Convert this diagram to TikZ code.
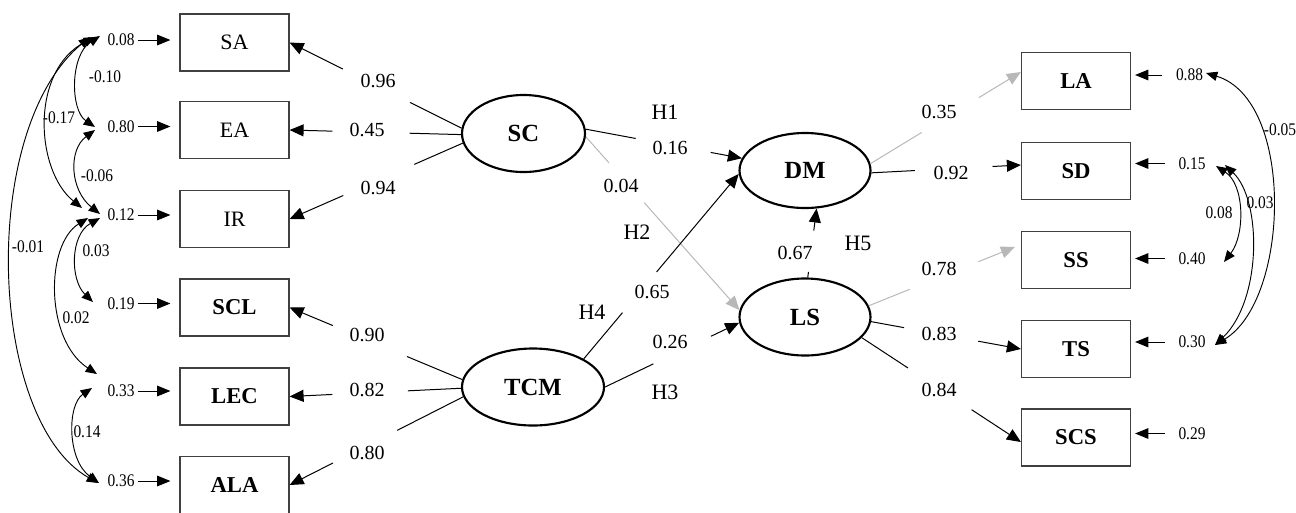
\documentclass[tikz,border=0pt]{standalone}
\usepackage{fontspec}
\setmainfont{Liberation Serif}
\newfontfamily\condfont[FakeStretch=0.87]{Liberation Serif}
\usetikzlibrary{arrows.meta,calc,shapes.geometric}
\definecolor{boxc}{HTML}{404040}
\definecolor{lgray}{HTML}{B8B8B8}
\newcommand{\gapline}[5][]{%
  \draw[ln,#1] (#2) -- ($(#2)!#4!(#3)$);
  \draw[ln,arr,#1] ($(#2)!#5!(#3)$) -- (#3);
}
\begin{document}
\begin{tikzpicture}[x=0.75pt,y=-0.75pt,
  ln/.style={line width=0.75pt},
  arr/.style={-{Triangle[length=10.5pt,width=9pt]}},
  arr2/.style={-{Triangle[length=10pt,width=8pt]}},
  dbl/.style={line width=0.7pt,{Triangle[length=8.5pt,width=7pt]}-{Triangle[length=8.5pt,width=7pt]}},
  box/.style={draw=boxc,line width=0.9pt,minimum width=81.75pt,minimum height=42.75pt,inner sep=0pt,font=\fontsize{16.5}{19}\selectfont},
  boxb/.style={box,font=\fontsize{17}{20}\selectfont\bfseries},
  ell/.style={ellipse,draw,line width=1.6pt,inner sep=0pt,font=\fontsize{18.5}{22}\selectfont\bfseries},
  num/.style={inner sep=0pt,font=\fontsize{15}{18}\selectfont},
  hyp/.style={inner sep=0pt,font=\fontsize{16.5}{20}\selectfont},
  err/.style={inner sep=1pt,font=\condfont\fontsize{13.3}{15}\selectfont},
  cov/.style={inner sep=0pt,font=\condfont\fontsize{13.3}{15}\selectfont}]
\useasboundingbox (0,0) rectangle (1296,512);

% left indicator boxes
\node[box]  (SA)  at (234.5,42.5) {SA};
\node[box]  (EA)  at (234.5,130) {EA};
\node[box]  (IR)  at (234.5,219) {IR};
\node[boxb] (SCL) at (234.5,307.5) {SCL};
\node[boxb] (LEC) at (234.5,396.5) {LEC};
\node[boxb] (ALA) at (234.5,485) {ALA};

% right indicator boxes
\node[boxb] (LA)  at (1076,81) {LA};
\node[boxb] (SD)  at (1076,171) {SD};
\node[boxb] (SS)  at (1076,260) {SS};
\node[boxb] (TS)  at (1076,349) {TS};
\node[boxb] (SCS) at (1076,437.5) {SCS};

% latent variables
\node[ell,minimum width=92.25pt,minimum height=57.75pt] (SC) at (523.5,133.5) {SC};
\node[ell,minimum width=106.5pt,minimum height=57.75pt] (TCM) at (533,387) {TCM};
\node[ell,minimum width=98.25pt,minimum height=56.25pt] (DM) at (805,170.5) {DM};
\node[ell,minimum width=98.25pt,minimum height=57.75pt] (LS) at (805,317) {LS};

% loadings, left
\gapline{SC.175}{SA.east}{0.30}{0.69}
\gapline{SC.181}{EA.east}{0.30}{0.75}
\gapline{SC.189}{IR.east}{0.28}{0.69}
\gapline{TCM.174}{SCL.east}{0.32}{0.75}
\gapline{TCM.181}{LEC.east}{0.31}{0.75}
\gapline{TCM.188}{ALA.east}{0.38}{0.75}

% structural paths
\gapline{SC.4}{DM.169}{0.32}{0.80}
\gapline[lgray]{SC.357}{LS.174}{0.15}{0.38}
\gapline{TCM.29}{DM.183}{0.25}{0.47}
\gapline{TCM.0}{LS.185}{0.36}{0.79}
\gapline{LS.86}{DM.287}{0.08}{0.68}

% loadings, right
\coordinate (LAin)  at ($(LA.west)+(0,-9)$);
\coordinate (SDin)  at ($(SD.west)+(0,-6)$);
\coordinate (SSin)  at ($(SS.west)+(-6,-13)$);
\coordinate (SCSin) at ($(SCS.west)+(0,4.5)$);
\gapline[lgray]{DM.6}{LAin}{0.34}{0.72}
\gapline{DM.358}{SDin}{0.29}{0.81}
\gapline[lgray]{LS.10}{SSin}{0.28}{0.75}
\gapline{LS.356}{TS.west}{0.22}{0.715}
\gapline{LS.340}{SCSin}{0.29}{0.69}

% coefficient labels
\node[num] (l1)  at (378,81)  {0.96};
\node[num] (l2)  at (367,130) {0.45};
\node[num] (l3)  at (378,188) {0.94};
\node[num] (l4)  at (367,335) {0.90};
\node[num] (l5)  at (367,390) {0.82};
\node[num] (l6)  at (367,453) {0.80};
\node[num] (l7)  at (670,148) {0.16};
\node[num] (l8)  at (621,186) {0.04};
\node[num] (l9)  at (652,292) {0.65};
\node[num] (l10) at (670,342) {0.26};
\node[num] (l11) at (795,253) {0.67};
\node[num] (l12) at (939,112) {0.35};
\node[num] (l13) at (951,173) {0.92};
\node[num] (l14) at (939,269) {0.78};
\node[num] (l15) at (939,334) {0.83};
\node[num] (l16) at (939,390) {0.84};

% hypotheses
\node[hyp] (H1) at (665,112) {H1};
\node[hyp] (H2) at (637,232) {H2};
\node[hyp] (H4) at (592,312) {H4};
\node[hyp] (H3) at (665,392) {H3};
\node[hyp] (H5) at (858,243) {H5};

% error terms, left
\node[err] (e1) at (121,40)    {0.08};
\node[err] (e2) at (121,126.5) {0.80};
\node[err] (e3) at (121,215)   {0.12};
\node[err] (e4) at (121,303.5) {0.19};
\node[err] (e5) at (121,391)   {0.33};
\node[err] (e6) at (121,481)   {0.36};
\foreach \e/\b in {e1/SA,e2/EA,e3/IR,e4/SCL,e5/LEC,e6/ALA}
  \draw[ln,arr2,shorten <=1.5pt,shorten >=6.75pt] (\e.east) -- (\e.east -| \b.west);

% error terms, right
\node[err] (r1) at (1189.5,75)  {0.88};
\node[err] (r2) at (1192,163.5) {0.15};
\node[err] (r3) at (1192,258.5) {0.40};
\node[err] (r4) at (1192,342)   {0.30};
\node[err] (r5) at (1192,433.5) {0.29};
\foreach \r/\b in {r1/LA,r2/SD,r3/SS,r4/TS,r5/SCS}
  \draw[ln,arr2,shorten <=9pt,shorten >=3pt] (\r.west) -- (\r.west -| \b.east);

% covariance ends, left
\coordinate (a1) at (100,36);  \coordinate (a2) at (95,127);
\coordinate (b1) at (95,37);   \coordinate (b2) at (82,208);
\coordinate (c1) at (95,130);  \coordinate (c2) at (100,214);
\coordinate (d1) at (90,37);   \coordinate (d2) at (98,483);
\coordinate (f1) at (100,218); \coordinate (f2) at (93,302);
\coordinate (g1) at (88,218);  \coordinate (g2) at (97,374);
\coordinate (h1) at (92,388);  \coordinate (h2) at (99,483);
\draw[dbl] (a1) .. controls (70,55) and (70,110) .. (a2);
\draw[dbl] (b1) .. controls (30,70) and (35,170) .. (b2);
\draw[dbl] (c1) .. controls (68,150) and (70,190) .. (c2);
\draw[dbl] (d1) .. controls (-22,130) and (-12,420) .. (d2);
\draw[dbl] (f1) .. controls (70,235) and (70,280) .. (f2);
\draw[dbl] (g1) .. controls (45,245) and (45,340) .. (g2);
\draw[dbl] (h1) .. controls (67,405) and (67,460) .. (h2);
\node[cov] (k1) at (105,77)  {-0.10};
\node[cov] (k2) at (59,118)  {-0.17};
\node[cov] (k3) at (97,176)  {-0.06};
\node[cov] (k4) at (28,247)  {-0.01};
\node[cov] (k5) at (96,251)  {0.03};
\node[cov] (k6) at (76,318)  {0.02};
\node[cov] (k7) at (87,432)  {0.14};

% covariance ends, right
\coordinate (p1) at (1206,73);  \coordinate (p2) at (1215,345);
\coordinate (q1) at (1216,166); \coordinate (q2) at (1224,262);
\coordinate (s1) at (1225,165); \coordinate (s2) at (1215,345);
\draw[dbl] (p1) .. controls (1295,100) and (1290,300) .. (p2);
\draw[dbl] (q1) .. controls (1245,185) and (1245,235) .. (q2);
\draw[dbl] (s1) .. controls (1262,200) and (1262,300) .. (s2);
\node[cov] (m1) at (1280,130) {-0.05};
\node[cov] (m2) at (1219,213) {0.08};
\node[cov] (m3) at (1260,203) {0.03};
\end{tikzpicture}
\end{document}
